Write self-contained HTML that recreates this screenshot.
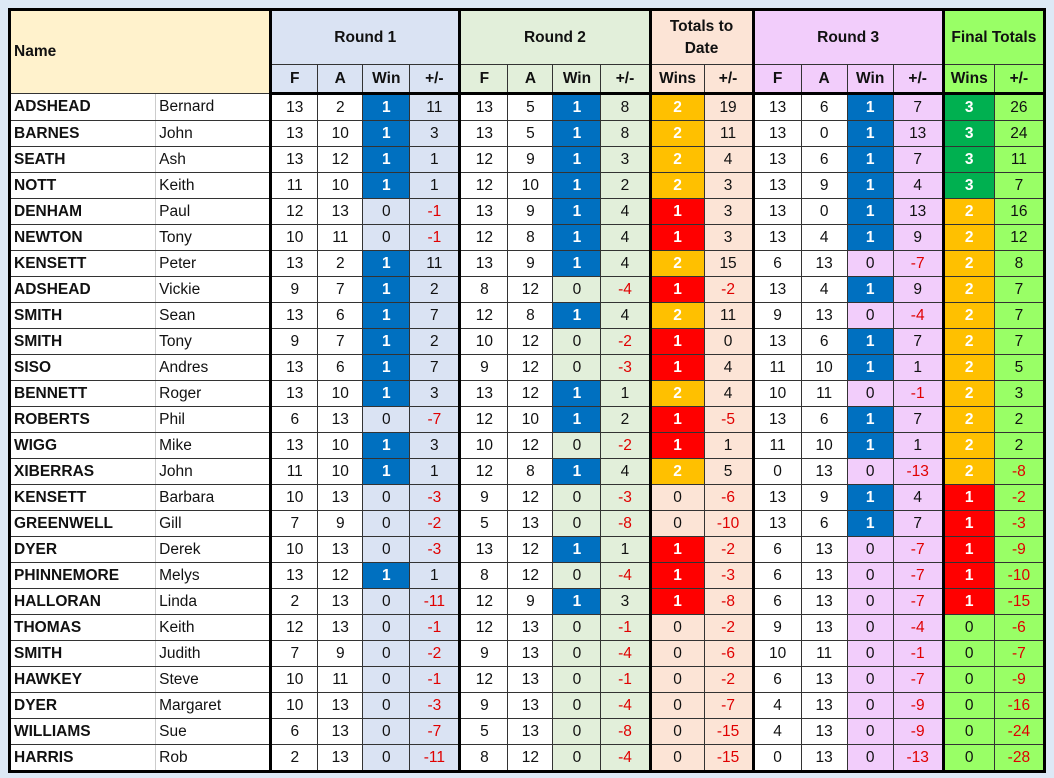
<!DOCTYPE html>
<html><head><meta charset="utf-8"><style>
body{margin:0;background:#dde9f6;width:1054px;height:778px;overflow:hidden;font-family:"Liberation Sans",Arial,sans-serif}
table{position:absolute;left:8px;top:8px;border-collapse:collapse;table-layout:fixed;width:1038px;border:3px solid #000;font-size:15.5px}
td{border:1px solid #333;text-align:center;height:25px;padding:0;background:#fff;color:#111;white-space:nowrap;overflow:hidden}
td.s{text-align:left;font-weight:bold;padding-left:3px;border-right:1px solid #ccc}
td.fn{text-align:left;padding-left:3px;border-left:1px solid #ccc}
.L{border-left:3px solid #000}
.r1{background:#dae3f3}.r2{background:#e2efda}.t{background:#fce4d6}.r3{background:#f2cdfb}.f{background:#99ff66}
.b{background:#0070c0;color:#fff;font-weight:bold}
.o{background:#ffc000;color:#fff;font-weight:bold}
.rd{background:#ff0000;color:#fff;font-weight:bold}
.g{background:#00b050;color:#fff;font-weight:bold}
.n{color:#e00000}
tr.h td{font-weight:bold;font-size:15.5px}
tr.h2 td{border-bottom:3px solid #000;height:27px}
tr.h1 td{height:53px}
.nm{background:#fff2cc;text-align:left!important;padding-left:3px!important}
</style></head><body>
<table>
<colgroup><col style="width:146px"><col style="width:115px"><col style="width:47px"><col style="width:45px"><col style="width:47px"><col style="width:50px"><col style="width:48px"><col style="width:45px"><col style="width:48px"><col style="width:49px"><col style="width:54px"><col style="width:49px"><col style="width:48px"><col style="width:46px"><col style="width:46px"><col style="width:50px"><col style="width:51px"><col style="width:50px"></colgroup>
<tr class="h h1"><td class="nm" colspan="2" rowspan="2">Name</td><td class="L r1" colspan="4">Round 1</td><td class="L r2" colspan="4">Round 2</td><td class="L t" colspan="2" style="white-space:normal;line-height:22px">Totals to Date</td><td class="L r3" colspan="4">Round 3</td><td class="L f" colspan="2">Final Totals</td></tr>
<tr class="h h2"><td class="L r1">F</td><td class="r1">A</td><td class="r1">Win</td><td class="r1">+/-</td><td class="L r2">F</td><td class="r2">A</td><td class="r2">Win</td><td class="r2">+/-</td><td class="L t">Wins</td><td class="t">+/-</td><td class="L r3">F</td><td class="r3">A</td><td class="r3">Win</td><td class="r3">+/-</td><td class="L f">Wins</td><td class="f">+/-</td></tr>
<tr><td class=s>ADSHEAD</td><td class=fn>Bernard</td><td class=L>13</td><td>2</td><td class=b>1</td><td class=r1>11</td><td class=L>13</td><td>5</td><td class=b>1</td><td class=r2>8</td><td class="L o">2</td><td class=t>19</td><td class=L>13</td><td>6</td><td class=b>1</td><td class=r3>7</td><td class="L g">3</td><td class=f>26</td></tr>
<tr><td class=s>BARNES</td><td class=fn>John</td><td class=L>13</td><td>10</td><td class=b>1</td><td class=r1>3</td><td class=L>13</td><td>5</td><td class=b>1</td><td class=r2>8</td><td class="L o">2</td><td class=t>11</td><td class=L>13</td><td>0</td><td class=b>1</td><td class=r3>13</td><td class="L g">3</td><td class=f>24</td></tr>
<tr><td class=s>SEATH</td><td class=fn>Ash</td><td class=L>13</td><td>12</td><td class=b>1</td><td class=r1>1</td><td class=L>12</td><td>9</td><td class=b>1</td><td class=r2>3</td><td class="L o">2</td><td class=t>4</td><td class=L>13</td><td>6</td><td class=b>1</td><td class=r3>7</td><td class="L g">3</td><td class=f>11</td></tr>
<tr><td class=s>NOTT</td><td class=fn>Keith</td><td class=L>11</td><td>10</td><td class=b>1</td><td class=r1>1</td><td class=L>12</td><td>10</td><td class=b>1</td><td class=r2>2</td><td class="L o">2</td><td class=t>3</td><td class=L>13</td><td>9</td><td class=b>1</td><td class=r3>4</td><td class="L g">3</td><td class=f>7</td></tr>
<tr><td class=s>DENHAM</td><td class=fn>Paul</td><td class=L>12</td><td>13</td><td class=r1>0</td><td class="r1 n">-1</td><td class=L>13</td><td>9</td><td class=b>1</td><td class=r2>4</td><td class="L rd">1</td><td class=t>3</td><td class=L>13</td><td>0</td><td class=b>1</td><td class=r3>13</td><td class="L o">2</td><td class=f>16</td></tr>
<tr><td class=s>NEWTON</td><td class=fn>Tony</td><td class=L>10</td><td>11</td><td class=r1>0</td><td class="r1 n">-1</td><td class=L>12</td><td>8</td><td class=b>1</td><td class=r2>4</td><td class="L rd">1</td><td class=t>3</td><td class=L>13</td><td>4</td><td class=b>1</td><td class=r3>9</td><td class="L o">2</td><td class=f>12</td></tr>
<tr><td class=s>KENSETT</td><td class=fn>Peter</td><td class=L>13</td><td>2</td><td class=b>1</td><td class=r1>11</td><td class=L>13</td><td>9</td><td class=b>1</td><td class=r2>4</td><td class="L o">2</td><td class=t>15</td><td class=L>6</td><td>13</td><td class=r3>0</td><td class="r3 n">-7</td><td class="L o">2</td><td class=f>8</td></tr>
<tr><td class=s>ADSHEAD</td><td class=fn>Vickie</td><td class=L>9</td><td>7</td><td class=b>1</td><td class=r1>2</td><td class=L>8</td><td>12</td><td class=r2>0</td><td class="r2 n">-4</td><td class="L rd">1</td><td class="t n">-2</td><td class=L>13</td><td>4</td><td class=b>1</td><td class=r3>9</td><td class="L o">2</td><td class=f>7</td></tr>
<tr><td class=s>SMITH</td><td class=fn>Sean</td><td class=L>13</td><td>6</td><td class=b>1</td><td class=r1>7</td><td class=L>12</td><td>8</td><td class=b>1</td><td class=r2>4</td><td class="L o">2</td><td class=t>11</td><td class=L>9</td><td>13</td><td class=r3>0</td><td class="r3 n">-4</td><td class="L o">2</td><td class=f>7</td></tr>
<tr><td class=s>SMITH</td><td class=fn>Tony</td><td class=L>9</td><td>7</td><td class=b>1</td><td class=r1>2</td><td class=L>10</td><td>12</td><td class=r2>0</td><td class="r2 n">-2</td><td class="L rd">1</td><td class=t>0</td><td class=L>13</td><td>6</td><td class=b>1</td><td class=r3>7</td><td class="L o">2</td><td class=f>7</td></tr>
<tr><td class=s>SISO</td><td class=fn>Andres</td><td class=L>13</td><td>6</td><td class=b>1</td><td class=r1>7</td><td class=L>9</td><td>12</td><td class=r2>0</td><td class="r2 n">-3</td><td class="L rd">1</td><td class=t>4</td><td class=L>11</td><td>10</td><td class=b>1</td><td class=r3>1</td><td class="L o">2</td><td class=f>5</td></tr>
<tr><td class=s>BENNETT</td><td class=fn>Roger</td><td class=L>13</td><td>10</td><td class=b>1</td><td class=r1>3</td><td class=L>13</td><td>12</td><td class=b>1</td><td class=r2>1</td><td class="L o">2</td><td class=t>4</td><td class=L>10</td><td>11</td><td class=r3>0</td><td class="r3 n">-1</td><td class="L o">2</td><td class=f>3</td></tr>
<tr><td class=s>ROBERTS</td><td class=fn>Phil</td><td class=L>6</td><td>13</td><td class=r1>0</td><td class="r1 n">-7</td><td class=L>12</td><td>10</td><td class=b>1</td><td class=r2>2</td><td class="L rd">1</td><td class="t n">-5</td><td class=L>13</td><td>6</td><td class=b>1</td><td class=r3>7</td><td class="L o">2</td><td class=f>2</td></tr>
<tr><td class=s>WIGG</td><td class=fn>Mike</td><td class=L>13</td><td>10</td><td class=b>1</td><td class=r1>3</td><td class=L>10</td><td>12</td><td class=r2>0</td><td class="r2 n">-2</td><td class="L rd">1</td><td class=t>1</td><td class=L>11</td><td>10</td><td class=b>1</td><td class=r3>1</td><td class="L o">2</td><td class=f>2</td></tr>
<tr><td class=s>XIBERRAS</td><td class=fn>John</td><td class=L>11</td><td>10</td><td class=b>1</td><td class=r1>1</td><td class=L>12</td><td>8</td><td class=b>1</td><td class=r2>4</td><td class="L o">2</td><td class=t>5</td><td class=L>0</td><td>13</td><td class=r3>0</td><td class="r3 n">-13</td><td class="L o">2</td><td class="f n">-8</td></tr>
<tr><td class=s>KENSETT</td><td class=fn>Barbara</td><td class=L>10</td><td>13</td><td class=r1>0</td><td class="r1 n">-3</td><td class=L>9</td><td>12</td><td class=r2>0</td><td class="r2 n">-3</td><td class="L t">0</td><td class="t n">-6</td><td class=L>13</td><td>9</td><td class=b>1</td><td class=r3>4</td><td class="L rd">1</td><td class="f n">-2</td></tr>
<tr><td class=s>GREENWELL</td><td class=fn>Gill</td><td class=L>7</td><td>9</td><td class=r1>0</td><td class="r1 n">-2</td><td class=L>5</td><td>13</td><td class=r2>0</td><td class="r2 n">-8</td><td class="L t">0</td><td class="t n">-10</td><td class=L>13</td><td>6</td><td class=b>1</td><td class=r3>7</td><td class="L rd">1</td><td class="f n">-3</td></tr>
<tr><td class=s>DYER</td><td class=fn>Derek</td><td class=L>10</td><td>13</td><td class=r1>0</td><td class="r1 n">-3</td><td class=L>13</td><td>12</td><td class=b>1</td><td class=r2>1</td><td class="L rd">1</td><td class="t n">-2</td><td class=L>6</td><td>13</td><td class=r3>0</td><td class="r3 n">-7</td><td class="L rd">1</td><td class="f n">-9</td></tr>
<tr><td class=s>PHINNEMORE</td><td class=fn>Melys</td><td class=L>13</td><td>12</td><td class=b>1</td><td class=r1>1</td><td class=L>8</td><td>12</td><td class=r2>0</td><td class="r2 n">-4</td><td class="L rd">1</td><td class="t n">-3</td><td class=L>6</td><td>13</td><td class=r3>0</td><td class="r3 n">-7</td><td class="L rd">1</td><td class="f n">-10</td></tr>
<tr><td class=s>HALLORAN</td><td class=fn>Linda</td><td class=L>2</td><td>13</td><td class=r1>0</td><td class="r1 n">-11</td><td class=L>12</td><td>9</td><td class=b>1</td><td class=r2>3</td><td class="L rd">1</td><td class="t n">-8</td><td class=L>6</td><td>13</td><td class=r3>0</td><td class="r3 n">-7</td><td class="L rd">1</td><td class="f n">-15</td></tr>
<tr><td class=s>THOMAS</td><td class=fn>Keith</td><td class=L>12</td><td>13</td><td class=r1>0</td><td class="r1 n">-1</td><td class=L>12</td><td>13</td><td class=r2>0</td><td class="r2 n">-1</td><td class="L t">0</td><td class="t n">-2</td><td class=L>9</td><td>13</td><td class=r3>0</td><td class="r3 n">-4</td><td class="L f">0</td><td class="f n">-6</td></tr>
<tr><td class=s>SMITH</td><td class=fn>Judith</td><td class=L>7</td><td>9</td><td class=r1>0</td><td class="r1 n">-2</td><td class=L>9</td><td>13</td><td class=r2>0</td><td class="r2 n">-4</td><td class="L t">0</td><td class="t n">-6</td><td class=L>10</td><td>11</td><td class=r3>0</td><td class="r3 n">-1</td><td class="L f">0</td><td class="f n">-7</td></tr>
<tr><td class=s>HAWKEY</td><td class=fn>Steve</td><td class=L>10</td><td>11</td><td class=r1>0</td><td class="r1 n">-1</td><td class=L>12</td><td>13</td><td class=r2>0</td><td class="r2 n">-1</td><td class="L t">0</td><td class="t n">-2</td><td class=L>6</td><td>13</td><td class=r3>0</td><td class="r3 n">-7</td><td class="L f">0</td><td class="f n">-9</td></tr>
<tr><td class=s>DYER</td><td class=fn>Margaret</td><td class=L>10</td><td>13</td><td class=r1>0</td><td class="r1 n">-3</td><td class=L>9</td><td>13</td><td class=r2>0</td><td class="r2 n">-4</td><td class="L t">0</td><td class="t n">-7</td><td class=L>4</td><td>13</td><td class=r3>0</td><td class="r3 n">-9</td><td class="L f">0</td><td class="f n">-16</td></tr>
<tr><td class=s>WILLIAMS</td><td class=fn>Sue</td><td class=L>6</td><td>13</td><td class=r1>0</td><td class="r1 n">-7</td><td class=L>5</td><td>13</td><td class=r2>0</td><td class="r2 n">-8</td><td class="L t">0</td><td class="t n">-15</td><td class=L>4</td><td>13</td><td class=r3>0</td><td class="r3 n">-9</td><td class="L f">0</td><td class="f n">-24</td></tr>
<tr><td class=s>HARRIS</td><td class=fn>Rob</td><td class=L>2</td><td>13</td><td class=r1>0</td><td class="r1 n">-11</td><td class=L>8</td><td>12</td><td class=r2>0</td><td class="r2 n">-4</td><td class="L t">0</td><td class="t n">-15</td><td class=L>0</td><td>13</td><td class=r3>0</td><td class="r3 n">-13</td><td class="L f">0</td><td class="f n">-28</td></tr>
</table>
</body></html>
